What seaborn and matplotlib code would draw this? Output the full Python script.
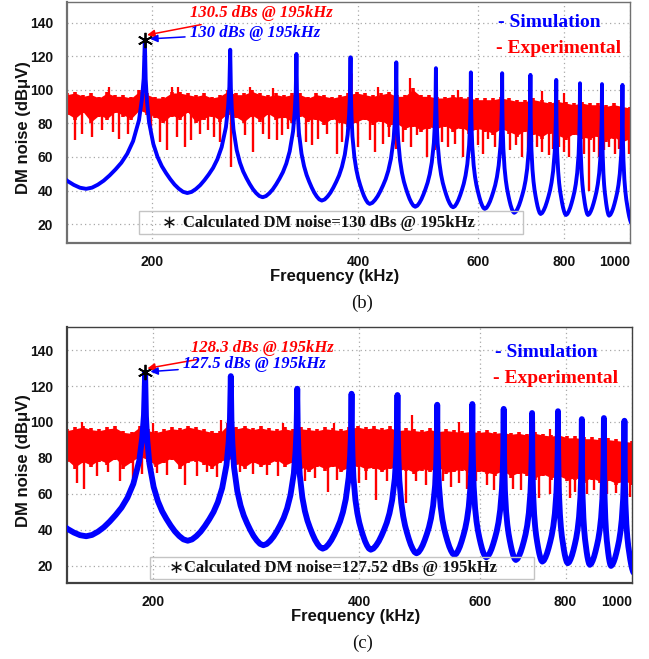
import numpy as np
import pandas as pd
import matplotlib
matplotlib.use("Agg")
import matplotlib.pyplot as plt
from matplotlib.ticker import NullLocator
from matplotlib.patches import Rectangle
import seaborn as sns

# ---------------- data ----------------
# switching harmonics (kHz), n = 2 .. 15 of 65 kHz
harm_f = [130, 195, 260, 325, 390, 455, 520, 585, 650, 715, 780, 845, 910, 975]
# minima between consecutive harmonics (kHz)
valley_f = [160, 225, 290, 354, 416, 485, 551, 613, 677, 740, 806, 868, 932, 1007]

# simulated DM noise: harmonic peaks and inter-harmonic minima (dBuV)
b_sim_peak = [125, 130, 124, 121.5, 119.5, 116.5, 113, 110.5, 110, 109, 106, 104, 103.5, 103]
b_sim_valley = [41, 38.5, 36, 34, 32, 30.3, 30, 29, 26.7, 26, 25.4, 25.4, 25, 20]
c_sim_peak = [110, 127.5, 125.5, 118.5, 115.7, 115, 109.6, 110, 107.3, 105, 106, 101.6, 102.2, 100.7]
c_sim_valley = [36.5, 34, 31.5, 29.6, 29, 27, 26.1, 24.8, 23.3, 22.4, 21.5, 20.6, 20, 16]

# shape of one resonance flank: relative distance peak->minimum vs. relative level
lobe_d = [0, 0.02, 0.05, 0.1, 0.2, 0.3, 0.4, 0.5, 0.6, 0.7, 0.8, 0.9, 1.0]
lobe_frac = [1, 0.74, 0.6, 0.46, 0.32, 0.235, 0.175, 0.13, 0.09, 0.055, 0.028, 0.008, 0]

# measured spectrum: upper edge and lower edge of the dense noise floor (dBuV)
b_exp_top = [98, 99, 97, 98, 96, 99, 97, 97, 96, 100, 98, 96, 96, 99, 99, 98, 97, 98, 96, 97,
             100, 98, 98, 100, 98, 97, 98, 97, 98, 98, 96, 98, 97, 96, 97, 98,
             99, 98, 97, 98, 99, 97, 97, 101, 97, 97, 96, 96, 97, 96, 96, 95, 95, 95, 96, 95,
             94, 94, 95, 94, 93, 94, 93, 92, 93, 92, 92, 91, 92, 91, 90]
b_exp_low = [85, 82, 86, 80, 84, 82, 86, 84, 82, 87, 85, 83, 80, 84, 82, 86, 80, 82, 84, 81,
             85, 83, 80, 84, 81, 85, 82, 83, 80, 84, 81, 82, 79, 82, 80, 78,
             80, 82, 79, 81, 78, 79, 76, 78, 75, 77, 76, 78, 75, 77, 74, 76, 75, 73, 76, 74,
             72, 75, 73, 71, 74, 72, 70, 73, 71, 70, 72, 69, 71, 68, 70]
c_exp_top = [96, 97, 98, 96.5, 96, 97, 97.5, 95, 94.5, 98, 96, 95, 96, 97, 96.5, 98, 97, 96, 95, 95,
             99.5, 97, 98, 96.5, 97.5, 96.5, 96, 97, 96, 97, 96.5, 96, 97, 96.5, 96, 97,
             98, 97, 97.5, 96.5, 97.5, 96, 96.5, 96, 95.5, 96.5, 95.5, 96, 95.5, 95, 95.5, 95,
             95.5, 94.5, 95, 94, 94.5, 93.5, 94.5, 93.5, 93, 93.5, 92, 92, 91.5, 91.5, 91, 91,
             90.5, 90, 89.5]
c_exp_low = [78, 74, 77, 75, 78, 76, 79, 74, 77, 80, 78, 75, 77, 79, 74, 77, 78, 76, 74, 77,
             79, 76, 74, 77, 75, 76, 78, 75, 77, 74, 72, 75, 73, 75, 72, 74,
             75, 73, 74, 72, 74, 72, 73, 71, 73, 72, 74, 71, 72, 73, 70, 72, 71, 70, 72, 69,
             71, 70, 68, 70, 68, 69, 67, 68, 66, 68, 66, 67, 65, 66, 65]

# deep notches of the measured spectrum (kHz, dBuV)
b_dip_f = [154, 158, 163, 169, 175, 179, 184, 199, 205, 210, 217, 223, 228, 235, 241, 246, 251,
           261, 273, 281, 290, 296, 304, 310, 316, 327, 336, 343, 350, 360, 372, 379, 392, 400,
           416, 424, 435, 444, 455, 466, 478, 488, 505, 518, 530, 542, 554, 570, 585, 600, 610,
           620, 635, 650, 668, 682, 696, 708, 720, 732, 744, 760, 772, 786, 800, 815, 842, 856,
           870, 885, 900, 915, 932, 950, 965, 978, 998]
b_dip_db = [70, 74, 72, 76, 75, 71, 74, 73, 69, 64, 72, 66, 70, 74, 76, 72, 69,
            54, 73, 63, 74, 71, 70, 73, 77, 72, 69, 67, 71, 74, 62, 69, 77, 66,
            70, 63, 68, 72, 65, 69, 66, 73, 60, 64, 69, 66, 68, 60, 64, 67, 62,
            71, 66, 62, 64, 67, 60, 64, 69, 66, 63, 61, 65, 66, 63, 60, 64, 62,
            40, 63, 60, 64, 66, 62, 65, 61, 62]
c_dip_f = [155, 159, 166, 172, 179, 187, 193, 203, 210, 223, 232, 240, 248, 268, 280, 294, 305,
           320, 334, 345, 360, 371, 390, 400, 409, 424, 440, 455, 468, 485, 500, 515, 530, 545,
           560, 575, 592, 614, 630, 645, 656, 670, 690, 709, 732, 760, 775, 785, 812, 825, 840,
           860, 880, 900, 920, 948, 970, 993]
c_dip_db = [66, 63, 70, 72, 67, 69, 71, 71.5, 70.6, 65, 70, 72, 69.6, 72.4, 71, 70.6, 70,
            72, 67, 69, 61.3, 67.8, 68, 66, 67.8, 56.7, 67, 66, 54.8, 67, 65, 63, 67, 64,
            66, 63, 67, 65, 62, 64, 60.4, 63, 62, 66, 57.6, 60, 62, 65, 57.6, 61, 56.7,
            60, 62, 57.6, 60, 60.4, 61, 58.5]

# narrow peaks of the measured spectrum above the noise floor (kHz, dBuV)
b_up_f = [173, 214, 218, 278, 300, 428, 477, 560, 744, 800]
b_up_db = [102, 102, 101.5, 102, 101, 101.5, 107, 100, 99.5, 98]
c_up_f = [158, 200, 252, 310, 368, 477, 560, 720, 760]
c_up_db = [100, 99.5, 101, 99.5, 99.5, 104, 100, 100, 96]

# measured level at the switching harmonics n = 3 .. 15
b_exp_harm = [130.5, 124, 121, 110, 108, 106, 104, 104, 103, 102, 101, 100, 99]
c_exp_harm = [128.3, 112, 108, 106, 106, 104, 103, 102, 101, 100, 99, 98, 97]

f_mark = 195
panels = {
    "b": dict(peak=b_sim_peak, valley=b_sim_valley, top=b_exp_top, low=b_exp_low,
              dip_f=b_dip_f, dip_db=b_dip_db, up_f=b_up_f, up_db=b_up_db,
              harm=b_exp_harm, meas=130.5, sim=130.0, calc=130.0,
              calc_txt="130", ylim=(8.7, 152.5)),
    "c": dict(peak=c_sim_peak, valley=c_sim_valley, top=c_exp_top, low=c_exp_low,
              dip_f=c_dip_f, dip_db=c_dip_db, up_f=c_up_f, up_db=c_up_db,
              harm=c_exp_harm, meas=128.3, sim=127.5, calc=127.52,
              calc_txt="127.52", ylim=(10.5, 152.8)),
}

RED = "#ff0000"
BLUE = "#0000ff"
SERIF = ["Liberation Serif", "DejaVu Serif"]


def resonance_curve(peaks, valleys):
    """Trace the simulated spectrum flank by flank between harmonics and minima."""
    lp = np.log(harm_f)
    lv = np.log(valley_f)
    xs, ys = [], []
    for i, pk in enumerate(peaks):
        if i > 0:
            for d, fr in zip(lobe_d[::-1][1:], lobe_frac[::-1][1:]):
                xs.append(np.exp(lp[i] + d * (lv[i - 1] - lp[i])))
                ys.append(valleys[i - 1] + fr * (pk - valleys[i - 1]))
        for d, fr in zip(lobe_d[1:], lobe_frac[1:]):
            xs.append(np.exp(lp[i] + d * (lv[i] - lp[i])))
            ys.append(valleys[i] + fr * (pk - valleys[i]))
    return pd.DataFrame({"Frequency (kHz)": xs, "DM noise (dBuV)": ys})


sns.set_theme(style="white")
plt.rcParams["font.family"] = ["Liberation Sans", "DejaVu Sans"]

fig = plt.figure(figsize=(6.49, 6.59), dpi=100)
ax_b = fig.add_axes([0.1032, 0.6313, 0.8675, 0.3657])
ax_c = fig.add_axes([0.1032, 0.1153, 0.8706, 0.3885])

layout = {
    "b": dict(ax=ax_b, lw=2.8, spine="#707070",
              red_txt=(0.218, 0.954), blue_txt=(0.218, 0.871),
              red_tip=(196.5, 132.8), blue_tip=(198.5, 130.5),
              sim_leg=(0.766, 0.913), exp_leg=(0.762, 0.805),
              box=(0.128, 0.037, 0.682, 0.096), star_x=0.181, box_txt=(0.206, 0.083),
              xlab_x=0.476, xlab_y=-0.108, tag="(b)", tag_xy=(0.558, 0.540)),
    "c": dict(ax=ax_c, lw=4.2, spine="#404040",
              red_txt=(0.219, 0.918), blue_txt=(0.205, 0.855),
              red_tip=(196.5, 129.8), blue_tip=(198.5, 128.0),
              sim_leg=(0.758, 0.902), exp_leg=(0.754, 0.797),
              box=(0.147, 0.0156, 0.6795, 0.086), star_x=0.193, box_txt=(0.207, 0.059),
              xlab_x=0.51, xlab_y=-0.1016, tag="(c)", tag_xy=(0.559, 0.0243)),
}

band_f = np.geomspace(150, 1000, len(b_exp_top))

for key in ["b", "c"]:
    p = panels[key]
    L = layout[key]
    ax = L["ax"]
    ax.set_xscale("log")

    # measured spectrum: dense core of the noise floor plus its single spectral lines
    top = np.asarray(p["top"], float)
    low = np.asarray(p["low"], float)
    ax.fill_between(band_f, low + 1.0, top - 0.8, color=RED, lw=0, zorder=2)
    ax.vlines(band_f, low, top, color=RED, lw=2.6, zorder=2)
    ax.vlines(p["dip_f"], p["dip_db"], 86, color=RED, lw=1.7, zorder=2)
    ax.vlines(p["up_f"], 90, p["up_db"], color=RED, lw=1.6, zorder=2)
    ax.vlines(harm_f[1:], 90, p["harm"], color=RED, lw=1.8, zorder=2)

    # simulated spectrum
    sim = resonance_curve(p["peak"], p["valley"])
    sns.lineplot(data=sim, x="Frequency (kHz)", y="DM noise (dBuV)", ax=ax,
                 color=BLUE, lw=L["lw"], estimator=None, sort=False, zorder=3)

    # calculated value at the fundamental
    ax.plot([f_mark], [p["calc"]], marker=(6, 2, 0), ms=11, mec="black",
            mew=1.3, ls="none", zorder=6)

    ax.annotate(f"{p['meas']} dBs @ {f_mark}kHz", xy=L["red_tip"], xycoords="data",
                xytext=L["red_txt"], textcoords="axes fraction", ha="left", va="center",
                color=RED, fontsize=12, fontstyle="italic", fontweight="bold", family=SERIF,
                arrowprops=dict(arrowstyle="-|>", color=RED, lw=1.1, mutation_scale=11,
                                shrinkA=1, shrinkB=0), zorder=7)
    sim_txt = f"{p['sim']:g}"
    ax.annotate(f"{sim_txt} dBs @ {f_mark}kHz", xy=L["blue_tip"], xycoords="data",
                xytext=L["blue_txt"], textcoords="axes fraction", ha="left", va="center",
                color=BLUE, fontsize=12, fontstyle="italic", fontweight="bold", family=SERIF,
                arrowprops=dict(arrowstyle="-|>", color=BLUE, lw=1.1, mutation_scale=11,
                                shrinkA=1, shrinkB=0), zorder=7)

    ax.text(*L["sim_leg"], "- Simulation", transform=ax.transAxes, ha="left", va="center",
            color=BLUE, fontsize=14, fontweight="bold", family=SERIF, zorder=7)
    ax.text(*L["exp_leg"], "- Experimental", transform=ax.transAxes, ha="left", va="center",
            color=RED, fontsize=14, fontweight="bold", family=SERIF, zorder=7)

    bx, by, bw, bh = L["box"]
    ax.add_patch(Rectangle((bx, by), bw, bh, transform=ax.transAxes, fill=False,
                           ec="#c4c4c4", lw=1.0, zorder=4))
    ax.text(L["star_x"], L["box_txt"][1], "\u2217", transform=ax.transAxes,
            ha="center", va="center", color="#111111", fontsize=13,
            family=["DejaVu Sans"], zorder=7)
    ax.text(*L["box_txt"], f"Calculated DM noise={p['calc_txt']} dBs @ {f_mark}kHz",
            transform=ax.transAxes, ha="left", va="center", color="#111111",
            fontsize=12, fontweight="bold", family=SERIF, zorder=7)

    # axes, ticks and grid
    ax.set_xlim(150, 1000)
    ax.set_ylim(*p["ylim"])
    ax.set_xticks([200, 400, 600, 800, 1000])
    ax.set_xticklabels(["200", "400", "600", "800", "1000"])
    ax.xaxis.set_minor_locator(NullLocator())
    ax.set_yticks([20, 40, 60, 80, 100, 120, 140])
    ax.tick_params(axis="both", length=0, labelsize=10, colors="#111111")
    ax.tick_params(axis="y", pad=10)
    ax.tick_params(axis="x", pad=8.5)
    for lab in ax.get_xticklabels() + ax.get_yticklabels():
        lab.set_fontweight("bold")
    ax.get_xticklabels()[-1].set_horizontalalignment("right")
    ax.grid(True, which="major", ls=(0, (1, 2.5)), color="#a8a8a8", lw=0.9, zorder=0)
    ax.set_axisbelow(True)

    ax.set_xlabel("Frequency (kHz)", fontsize=12, fontweight="bold", color="#111111")
    ax.set_ylabel("DM noise (dB\u03bcV)", fontsize=12, fontweight="bold", color="#111111")
    ax.xaxis.set_label_coords(L["xlab_x"], L["xlab_y"])
    ax.yaxis.set_label_coords(-0.064, 0.477)

    for side, sp in ax.spines.items():
        sp.set_visible(True)
        sp.set_color(L["spine"])
        sp.set_linewidth(1.6 if side in ("left", "bottom") else 1.0)

    fig.text(*L["tag_xy"], L["tag"], ha="center", va="center", fontsize=13.5,
             family=SERIF, color="#111111")

fig.savefig("out.png", dpi=100)
